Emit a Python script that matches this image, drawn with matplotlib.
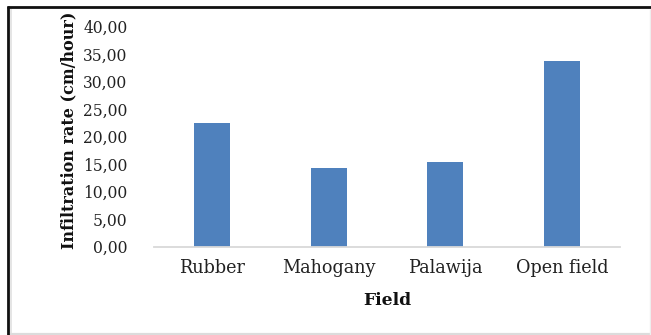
import matplotlib
matplotlib.use("Agg")
import matplotlib.pyplot as plt
from matplotlib.lines import Line2D
from matplotlib.ticker import FuncFormatter

fields = ["Rubber", "Mahogany", "Palawija", "Open field"]
infiltration = [22.5, 14.3, 15.4, 33.7]
y_ticks = [0, 5, 10, 15, 20, 25, 30, 35, 40]

W, H = 651, 335
fig = plt.figure(figsize=(W / 100, H / 100), dpi=100)
fig.patch.set_facecolor("white")

serif = ["DejaVu Serif"]
ax = fig.add_axes([154 / W, 1 - 246.7 / H, (620 - 154) / W, (246.7 - 26.7) / H])

x = range(len(fields))
ax.bar(x, infiltration, width=0.31, color="#4f81bd", zorder=2)

ax.set_xlim(-0.5, len(fields) - 0.5)
ax.set_ylim(0, 40)
ax.set_yticks(y_ticks)
ax.yaxis.set_major_formatter(FuncFormatter(lambda v, p: f"{v:.2f}".replace(".", ",")))
ax.set_xticks(list(x))
ax.set_xticklabels(fields)

for s in ["top", "right", "left"]:
    ax.spines[s].set_visible(False)
ax.spines["bottom"].set_color("#d9d9d9")
ax.spines["bottom"].set_linewidth(1.3)

ax.tick_params(axis="both", length=0, colors="#222222")
ax.tick_params(axis="y", pad=19, labelsize=11.2)
ax.tick_params(axis="x", pad=9, labelsize=12.7)
for lab in ax.get_xticklabels() + ax.get_yticklabels():
    lab.set_family(serif)

ax.set_ylabel("Infiltration rate (cm/hour)", fontsize=11.5, fontweight="bold",
              family=serif, color="#111111")
ax.yaxis.set_label_coords(-0.165, 0.53)
ax.set_xlabel("Field", fontsize=12.3, fontweight="bold", family=serif,
              color="#111111", labelpad=11)

# frame around the figure: dark top/left edge, light bottom/right edge
def px_line(x0, y0, x1, y1, color, lw):
    fig.add_artist(Line2D([x0 / W, x1 / W], [1 - y0 / H, 1 - y1 / H],
                          color=color, linewidth=lw, transform=fig.transFigure,
                          solid_capstyle="butt"))

px_line(7, 7, W, 7, "#111111", 2.0)
px_line(8, 6, 8, H, "#111111", 2.0)
px_line(10.5, 9, 10.5, H, "#e0e0e0", 1.2)
px_line(10, 333.5, W, 333.5, "#dcdcdc", 1.6)
px_line(650, 9, 650, H, "#eeeeee", 1.0)

fig.savefig("out.png", dpi=100)
